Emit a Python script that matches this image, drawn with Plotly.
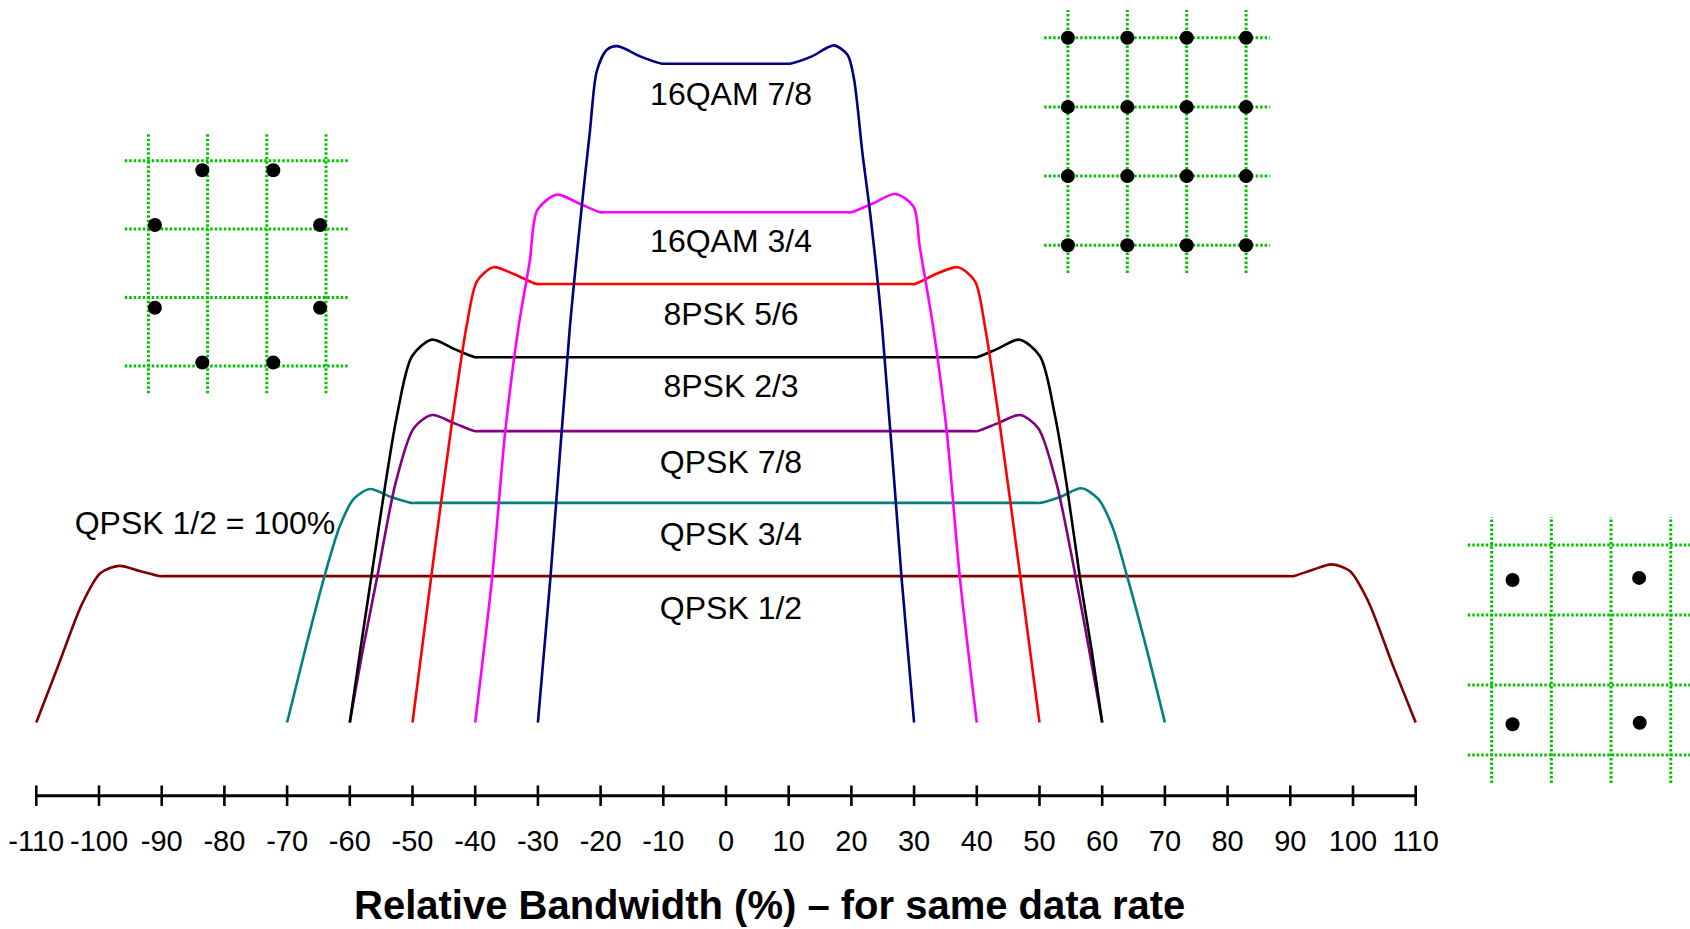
import plotly.graph_objects as go

FONT = "Liberation Sans, Arial, Helvetica, sans-serif"

# ---------------- data ----------------
tick_values = [-110, -100, -90, -80, -70, -60, -50, -40, -30, -20, -10, 0,
               10, 20, 30, 40, 50, 60, 70, 80, 90, 100, 110]
tick_text = ["-110", "-100", "-90", "-80", "-70", "-60", "-50", "-40", "-30", "-20", "-10", "0",
             "10", "20", "30", "40", "50", "60", "70", "80", "90", "100", "110"]

# spectrum outlines: relative bandwidth (%) vs. stacked level
qpsk12_x = [-110, -106.4, -102.7, -99.8, -96.8, -93.5, -90.3, -89.5,
            89.5, 90.5, 93.7, 96.6, 99.5, 102.4, 106.4, 110]
qpsk12_y = [0, 0.80, 1.62, 2.04, 2.14, 2.07, 2.0, 2.0,
            2.0, 2.0, 2.09, 2.16, 2.07, 1.66, 0.77, 0]

qpsk34_x = [-70, -67.1, -64.1, -61.6, -59.4, -56.8, -53.4, -50.2, -49.4,
            49.4, 50.1, 53.3, 56.7, 59.4, 61.6, 63.9, 67.1, 70]
qpsk34_y = [0, 1.0, 1.98, 2.68, 3.05, 3.19, 3.08, 3.0, 3.0,
            3.0, 3.0, 3.08, 3.2, 3.05, 2.68, 2.02, 1.0, 0]

qpsk78_x = [-60, -57.9, -55.6, -52.7, -49.8, -46.9, -43.4, -40.0, -39.2,
            39.2, 40.0, 43.4, 46.9, 49.8, 52.7, 55.7, 57.9, 60]
qpsk78_y = [0, 1.0, 2.0, 3.27, 4.02, 4.2, 4.09, 3.98, 3.98,
            3.98, 3.98, 4.09, 4.2, 4.02, 3.27, 2.02, 1.0, 0]

psk23_x = [-60, -58.3, -56.6, -54.3, -52.5, -50.1, -46.9, -43.3, -40.0, -39.2,
           39.2, 40.0, 43.2, 46.8, 50.1, 52.5, 54.3, 56.5, 58.3, 60]
psk23_y = [0, 1.0, 1.97, 3.27, 4.18, 5.0, 5.23, 5.1, 4.99, 4.99,
           4.99, 4.99, 5.1, 5.23, 5.0, 4.18, 3.27, 1.95, 1.0, 0]

psk56_x = [-50, -47.0, -43.8, -41.3, -39.7, -37.1, -33.7, -30.2, -29.4,
           29.4, 30.1, 33.6, 37.0, 39.7, 41.3, 43.7, 46.9, 50]
psk56_y = [0, 2.0, 4.04, 5.45, 6.03, 6.22, 6.12, 5.99, 5.99,
           5.99, 5.99, 6.13, 6.22, 6.03, 5.41, 4.05, 2.02, 0]

qam34_x = [-40, -37.3, -35.2, -33.1, -31.3, -30.1, -27.0, -23.4, -20.1, -19.3,
           19.3, 20.0, 23.4, 27.0, 29.9, 30.9, 33.1, 35.2, 37.3, 40]
qam34_y = [0, 1.98, 3.98, 5.4, 6.3, 7.0, 7.21, 7.09, 6.97, 6.97,
           6.97, 6.97, 7.09, 7.22, 7.05, 6.5, 5.37, 3.98, 1.98, 0]

qam78_x = [-30, -28.0, -24.9, -23.0, -21.7, -20.6, -19.0, -17.3, -13.7, -10.2, -9.4,
           9.4, 10.2, 13.7, 17.2, 19.4, 20.4, 21.8, 23.0, 24.9, 28.0, 30]
qam78_y = [0, 1.98, 5.4, 7.05, 8.08, 8.9, 9.19, 9.24, 9.1, 9.0, 9.0,
           9.0, 9.0, 9.1, 9.25, 9.12, 8.8, 7.75, 6.95, 5.4, 1.98, 0]

series_names = ["QPSK 1/2", "QPSK 3/4", "QPSK 7/8", "8PSK 2/3", "8PSK 5/6", "16QAM 3/4", "16QAM 7/8"]
series_x = [qpsk12_x, qpsk34_x, qpsk78_x, psk23_x, psk56_x, qam34_x, qam78_x]
series_y = [qpsk12_y, qpsk34_y, qpsk78_y, psk23_y, psk56_y, qam34_y, qam78_y]
series_colors = ["#800000", "#008080", "#800080", "#000000", "#FF0000", "#FF00FF", "#000080"]

# curve labels
label_text = ["QPSK 1/2", "QPSK 3/4", "QPSK 7/8", "8PSK 2/3", "8PSK 5/6", "16QAM 3/4", "16QAM 7/8",
              "QPSK 1/2 = 100%"]
label_x = [0.8, 0.8, 0.8, 0.8, 0.8, 0.8, 0.8, -83.1]
label_y = [1.53, 2.54, 3.515, 4.56, 5.54, 6.53, 8.55, 2.69]

# constellation insets (grid units)
grid_pos = [-1.5, -0.5, 0.5, 1.5]
psk8_i = [-0.59, 0.61, -1.39, 1.40, -1.39, 1.40, -0.59, 0.61]
psk8_q = [1.36, 1.36, 0.56, 0.56, -0.65, -0.65, -1.45, -1.45]
qam16_i = [-1.5, -0.5, 0.5, 1.5, -1.5, -0.5, 0.5, 1.5, -1.5, -0.5, 0.5, 1.5, -1.5, -0.5, 0.5, 1.5]
qam16_q = [1.5, 1.5, 1.5, 1.5, 0.5, 0.5, 0.5, 0.5, -0.5, -0.5, -0.5, -0.5, -1.5, -1.5, -1.5, -1.5]
qpsk_i = [-1.15, 0.97, -1.15, 0.98]
qpsk_q = [1.0, 1.03, -1.06, -1.04]

# ---------------- figure ----------------
fig = go.Figure()

for nm, xs, ys, col in zip(series_names, series_x, series_y, series_colors):
    fig.add_trace(go.Scatter(
        x=xs, y=ys, mode="lines", name=nm,
        line=dict(color=col, width=2.6, shape="spline", smoothing=0.8),
        hoverinfo="skip", showlegend=False))

# axis line and crossing tick marks
AXIS_Y = -1
TICK_HALF = 0.14
tx, ty = [], []
for t in tick_values:
    tx += [t, t, None]
    ty += [AXIS_Y - TICK_HALF, AXIS_Y + TICK_HALF, None]
fig.add_trace(go.Scatter(x=[tick_values[0], tick_values[-1]], y=[AXIS_Y, AXIS_Y], mode="lines",
                         line=dict(color="black", width=3), hoverinfo="skip", showlegend=False))
fig.add_trace(go.Scatter(x=tx, y=ty, mode="lines", line=dict(color="black", width=2.6),
                         hoverinfo="skip", showlegend=False))

# curve labels
fig.add_trace(go.Scatter(x=label_x, y=label_y, mode="text", text=label_text,
                         textposition="middle center",
                         textfont=dict(family=FONT, size=32, color="black"),
                         hoverinfo="skip", showlegend=False))

GREEN = "#00C400"
EXT = 1.9


def add_inset(idx, pts_i, pts_q):
    xa = "x%d" % idx
    ya = "y%d" % idx
    gx, gy = [], []
    for g in grid_pos:
        gx += [-EXT, EXT, None]
        gy += [g, g, None]
        gx += [g, g, None]
        gy += [-EXT, EXT, None]
    fig.add_trace(go.Scatter(x=gx, y=gy, mode="lines", xaxis=xa, yaxis=ya,
                             line=dict(color=GREEN, width=3, dash="2.5px,2px"),
                             hoverinfo="skip", showlegend=False))
    fig.add_trace(go.Scatter(x=pts_i, y=pts_q, mode="markers", xaxis=xa, yaxis=ya,
                             marker=dict(color="black", size=14, line=dict(width=0)),
                             hoverinfo="skip", showlegend=False))


add_inset(2, psk8_i, psk8_q)
add_inset(3, qam16_i, qam16_q)
add_inset(4, qpsk_i, qpsk_q)

hidden = dict(visible=False, showgrid=False, zeroline=False, fixedrange=True)

fig.update_layout(
    width=1690, height=929,
    margin=dict(l=0, r=0, t=0, b=0),
    paper_bgcolor="white", plot_bgcolor="white",
    showlegend=False,
    font=dict(family=FONT, color="black"),
    xaxis=dict(domain=[0, 1], range=[-115.79, 153.75],
               anchor="free", position=1 - 795.7 / 929,
               showgrid=False, zeroline=False, showline=False,
               ticks="", tickmode="array", tickvals=tick_values, ticktext=tick_text,
               ticklabelstandoff=25,
               tickfont=dict(family=FONT, size=29, color="black")),
    yaxis=dict(domain=[0, 1], range=[-2.821, 9.870], **hidden),
    xaxis2=dict(domain=[0.07030, 0.21041], range=[-2, 2], anchor="y2", **hidden),
    yaxis2=dict(domain=[0.56932, 0.86383], range=[-2, 2], anchor="x2", **hidden),
    xaxis3=dict(domain=[0.61432, 0.75491], range=[-2, 2], anchor="y3", **hidden),
    yaxis3=dict(domain=[0.69871, 0.99666], range=[-2, 2], anchor="x3", **hidden),
    xaxis4=dict(domain=[0.86497, 1.0], range=[-2, 1.822], anchor="y4", **hidden),
    yaxis4=dict(domain=[0.14962, 0.45102], range=[-2, 2], anchor="x4", **hidden),
    annotations=[dict(
        text="Relative Bandwidth (%) \u2013 for same data rate",
        xref="paper", yref="paper", x=769.5 / 1690, y=1 - 905 / 929,
        xanchor="center", yanchor="middle", showarrow=False,
        font=dict(family=FONT, size=40, color="black", weight="bold"))],
)

fig.write_html("out.html",
               config={"displayModeBar": False},
               post_script="document.body.style.margin='0';document.body.style.padding='0';"
                           "document.documentElement.style.overflow='hidden';")
